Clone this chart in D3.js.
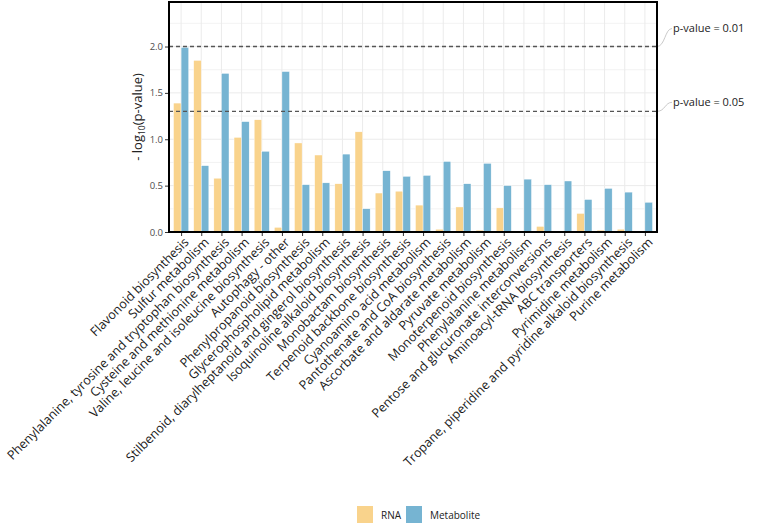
<!DOCTYPE html>
<html>
<head>
<meta charset="utf-8">
<script src="https://cdn.jsdelivr.net/npm/d3@7"></script>
<style>
body { margin: 0; background: #fff; }
text { font-family: "Open Sans", "Noto Sans", sans-serif; }
</style>
</head>
<body>
<div id="chart"></div>
<script>
var pathways = [
  "Flavonoid biosynthesis",
  "Sulfur metabolism",
  "Phenylalanine, tyrosine and tryptophan biosynthesis",
  "Cysteine and methionine metabolism",
  "Valine, leucine and isoleucine biosynthesis",
  "Autophagy - other",
  "Phenylpropanoid biosynthesis",
  "Glycerophospholipid metabolism",
  "Stilbenoid, diarylheptanoid and gingerol biosynthesis",
  "Isoquinoline alkaloid biosynthesis",
  "Monobactam biosynthesis",
  "Terpenoid backbone biosynthesis",
  "Cyanoamino acid metabolism",
  "Pantothenate and CoA biosynthesis",
  "Ascorbate and aldarate metabolism",
  "Pyruvate metabolism",
  "Monoterpenoid biosynthesis",
  "Phenylalanine metabolism",
  "Pentose and glucuronate interconversions",
  "Aminoacyl-tRNA biosynthesis",
  "ABC transporters",
  "Pyrimidine metabolism",
  "Tropane, piperidine and pyridine alkaloid biosynthesis",
  "Purine metabolism"
];
var rnaValues = [1.39, 1.85, 0.58, 1.02, 1.21, 0.05, 0.96, 0.83, 0.52, 1.08, 0.42, 0.44,
                 0.29, 0.03, 0.27, 0.02, 0.26, 0.005, 0.06, 0, 0.20, 0.02, 0.03, 0];
var metaboliteValues = [1.99, 0.715, 1.71, 1.19, 0.87, 1.73, 0.51, 0.53, 0.84, 0.25, 0.66, 0.60,
                        0.61, 0.76, 0.52, 0.74, 0.50, 0.57, 0.51, 0.55, 0.35, 0.47, 0.43, 0.32];
var seriesNames = ["RNA", "Metabolite"];
var yTicks = [0, 0.5, 1.0, 1.5, 2.0];
var thresholds = [{ y: 2, label: "p-value = 0.01" }, { y: -Math.log10(0.05), label: "p-value = 0.05" }];

var w = 757, h = 527;
var pLeft = 169, pRight = 657, pTop = 2, pBottom = 232;
var colors = { RNA: "#F9D38C", Metabolite: "#76B4D2" };

var svg = d3.select("#chart").append("svg")
  .attr("width", w)
  .attr("height", h);

var step = (pRight - pLeft) / (pathways.length - 1 + 1.2);
var xScale = d3.scalePoint()
  .domain(pathways)
  .range([pLeft + 0.6 * step, pRight - 0.6 * step]);

var yScale = d3.scaleLinear()
  .domain([0, 2.48])
  .range([pBottom, pTop]);

var barW = step * 0.375;

// grid
var grid = svg.append("g");
grid.selectAll(".vg")
  .data(pathways)
  .enter()
  .append("line")
  .attr("x1", function(d) { return xScale(d); })
  .attr("x2", function(d) { return xScale(d); })
  .attr("y1", pTop)
  .attr("y2", pBottom)
  .attr("stroke", "#ebebeb")
  .attr("stroke-width", 1);
grid.selectAll(".hg")
  .data(d3.range(0, 2.5, 0.25))
  .enter()
  .append("line")
  .attr("x1", pLeft)
  .attr("x2", pRight)
  .attr("y1", function(d) { return yScale(d); })
  .attr("y2", function(d) { return yScale(d); })
  .attr("stroke", "#ebebeb")
  .attr("stroke-width", function(d, i) { return i % 2 == 0 ? 1 : 0.6; });

// bars
var rows = pathways.map(function(p, i) {
  return { name: p, RNA: rnaValues[i], Metabolite: metaboliteValues[i] };
});
var groups = svg.selectAll(".grp")
  .data(seriesNames)
  .enter()
  .append("g")
  .style("fill", function(d) { return colors[d]; });

groups.selectAll("rect")
  .data(function(s, si) {
    return rows.map(function(r) { return { name: r.name, v: r[s], si: si }; });
  })
  .enter()
  .append("rect")
  .attr("x", function(d) { return xScale(d.name) - barW + d.si * barW; })
  .attr("y", function(d) { return yScale(d.v); })
  .attr("width", barW)
  .attr("height", function(d) { return pBottom - yScale(d.v); })
  .attr("stroke", "#fff")
  .attr("stroke-width", 0.4);

// threshold lines
svg.selectAll(".thr")
  .data(thresholds)
  .enter()
  .append("line")
  .attr("x1", pLeft)
  .attr("x2", pRight)
  .attr("y1", function(d) { return yScale(d.y); })
  .attr("y2", function(d) { return yScale(d.y); })
  .attr("stroke", "#555")
  .attr("stroke-width", 1.3)
  .attr("stroke-dasharray", "4,3");

// annotation leader curves and text
var labelDy = [-18, -9];
svg.selectAll(".lead")
  .data(thresholds)
  .enter()
  .append("path")
  .attr("d", function(d, i) {
    var y0 = yScale(d.y), y1 = y0 + labelDy[i];
    return "M" + pRight + "," + y0 + " C" + (pRight + 8) + "," + y0 + " " + (pRight + 8) + "," + y1 + " " + (pRight + 15) + "," + y1;
  })
  .attr("fill", "none")
  .attr("stroke", "#bbb")
  .attr("stroke-width", 0.8);
svg.selectAll(".thrlab")
  .data(thresholds)
  .enter()
  .append("text")
  .attr("x", pRight + 16)
  .attr("y", function(d, i) { return yScale(d.y) + labelDy[i]; })
  .attr("dy", "0.35em")
  .attr("font-size", 11)
  .attr("fill", "#222")
  .text(function(d) { return d.label; });

// panel border
svg.append("rect")
  .attr("x", pLeft)
  .attr("y", pTop)
  .attr("width", pRight - pLeft)
  .attr("height", pBottom - pTop)
  .attr("fill", "none")
  .attr("stroke", "#000")
  .attr("stroke-width", 2);

// y axis
var yAxis = svg.append("g")
  .attr("transform", "translate(" + (pLeft - 1) + ",0)")
  .call(d3.axisLeft(yScale).tickValues(yTicks).tickFormat(d3.format(".1f")).tickSize(3).tickPadding(2));
yAxis.select(".domain").remove();
yAxis.selectAll("line").attr("stroke", "#333");
yAxis.selectAll("text").attr("font-size", 9.5).attr("fill", "#4d4d4d")
  .style("font-family", "'Open Sans', sans-serif");

// x axis
var xAxis = svg.append("g")
  .attr("transform", "translate(0," + (pBottom + 1) + ")")
  .call(d3.axisBottom(xScale).tickSize(3).tickPadding(2));
xAxis.select(".domain").remove();
xAxis.selectAll("line").attr("stroke", "#333");
xAxis.selectAll("text")
  .attr("font-size", 12.6)
  .attr("fill", "#1a1a1a")
  .style("font-family", "'Open Sans', sans-serif")
  .attr("text-anchor", "end")
  .attr("dy", null)
  .attr("y", 0)
  .attr("transform", "translate(8,10) rotate(-45)");

// y title
var yt = svg.append("text")
  .attr("transform", "translate(142," + ((pTop + pBottom) / 2) + ") rotate(-90)")
  .attr("text-anchor", "middle")
  .attr("font-size", 13)
  .attr("fill", "#222");
yt.append("tspan").text("- log");
yt.append("tspan").attr("font-size", 8.5).attr("dy", 3).text("10");
yt.append("tspan").attr("dy", -3).text("(p-value)");

// legend
var legend = svg.selectAll(".leg")
  .data(seriesNames)
  .enter()
  .append("g")
  .attr("transform", function(d, i) { return "translate(" + (357 + i * 49) + ",506)"; });
legend.append("rect")
  .attr("width", 16)
  .attr("height", 17)
  .attr("fill", function(d) { return colors[d]; });
legend.append("text")
  .attr("x", 24)
  .attr("y", 9)
  .attr("dy", "0.35em")
  .attr("font-size", 10)
  .attr("fill", "#222")
  .text(function(d) { return d; });
</script>
</body>
</html>
